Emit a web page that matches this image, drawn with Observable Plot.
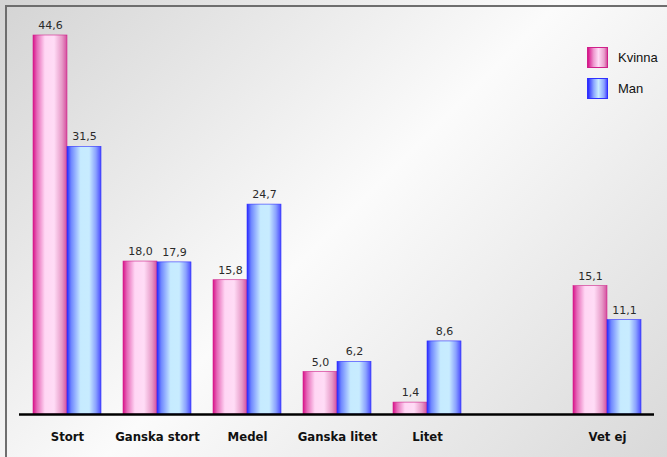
<!DOCTYPE html>
<html>
<head>
<meta charset="utf-8">
<script src="https://cdn.jsdelivr.net/npm/d3@7"></script>
<script src="https://cdn.jsdelivr.net/npm/@observablehq/plot@0.6"></script>
<style>
  html, body { margin: 0; padding: 0; }
  #wrap { position: relative; width: 667px; height: 457px; overflow: hidden;
    background: linear-gradient(135deg, #d4d4d4 0%, #fbfbfb 50%, #d9d9d9 100%); }
  #frame { position: absolute; left: 5px; top: 5px; width: 800px; height: 600px;
    border-left: 2px solid #6e6e6e; border-top: 2px solid #6e6e6e; }
  #chart { position: absolute; left: 0; top: 0; }
  .legend { position: absolute; left: 587px; font: 13px "Liberation Sans", Arial, sans-serif; color: #111; }
  .legend .row { position: absolute; left: 0; width: 100px; height: 22px; }
  .legend .sw { position: absolute; left: 0; top: 0; width: 21px; height: 21px; box-sizing: border-box; }
  .legend .lab { position: absolute; left: 31px; top: 3px; }
</style>
</head>
<body>
<div id="wrap">
  <div id="frame"></div>
  <div id="chart"></div>
  <div class="legend" id="legend"></div>
</div>
<script>
const categories = ["Stort", "Ganska stort", "Medel", "Ganska litet", "Litet", " ", "Vet ej"];
const series = ["Kvinna", "Man"];
const kvinna = [44.6, 18.0, 15.8, 5.0, 1.4, null, 15.1];
const man = [31.5, 17.9, 24.7, 6.2, 8.6, null, 11.1];

const rows = [];
categories.forEach((c, i) => {
  if (kvinna[i] != null) rows.push({category: c, series: "Kvinna", value: kvinna[i]});
  if (man[i] != null) rows.push({category: c, series: "Man", value: man[i]});
});

const W = 667, H = 457, ML = 19, MR = 13;
const pIn = 0.25, pOut = 0.125;
const step = (W - ML - MR) / (categories.length - pIn + 2 * pOut);
const bw = step * (1 - pIn);
const half = bw / 2;

const fmt = v => v.toFixed(1).replace(".", ",");
const fill = {Kvinna: "url(#gK)", Man: "url(#gM)"};
const edge = {Kvinna: "#d0208a", Man: "#3030ff"};

const chart = Plot.plot({
  width: W, height: H,
  marginLeft: ML, marginRight: MR, marginTop: 35, marginBottom: 43,
  style: {background: "transparent", fontFamily: "'Liberation Sans Narrow', 'DejaVu Sans Condensed', 'Arial Narrow', sans-serif", fontWeight: "bold", fontSize: "13px", color: "#111"},
  x: {domain: categories, paddingInner: pIn, paddingOuter: pOut, tickSize: 0, tickPadding: 17, label: null},
  y: {domain: [0, 44.6], nice: false, axis: null},
  marks: [
    Plot.barY(rows.filter(d => d.series === "Kvinna"), {x: "category", y: "value", fill: fill.Kvinna, stroke: edge.Kvinna, strokeWidth: 0.6, insetRight: half}),
    Plot.barY(rows.filter(d => d.series === "Man"), {x: "category", y: "value", fill: fill.Man, stroke: edge.Man, strokeWidth: 0.6, insetLeft: half}),
    Plot.text(rows.filter(d => d.series === "Kvinna"), {x: "category", y: "value", text: d => fmt(d.value), dx: -half / 2, dy: -10, fontFamily: "DejaVu Sans, Verdana, sans-serif", fontWeight: "normal", fontSize: 11, fill: "#2a2a2a"}),
    Plot.text(rows.filter(d => d.series === "Man"), {x: "category", y: "value", text: d => fmt(d.value), dx: half / 2, dy: -10, fontFamily: "DejaVu Sans, Verdana, sans-serif", fontWeight: "normal", fontSize: 11, fill: "#2a2a2a"}),
    Plot.ruleY([0], {stroke: "#000", strokeWidth: 2.5})
  ]
});

const svg = d3.select(chart);
const defs = svg.insert("defs", ":first-child");
function grad(id, stops) {
  const g = defs.append("linearGradient").attr("id", id).attr("x1", "0").attr("x2", "1").attr("y1", "0").attr("y2", "0");
  stops.forEach(([o, c]) => g.append("stop").attr("offset", o).attr("stop-color", c));
}
grad("gK", [[0, "#d8128a"], [0.12, "#e66ab8"], [0.35, "#ffd6f4"], [0.62, "#ffdcf6"], [0.85, "#e79ac8"], [1, "#d44f9e"]]);
grad("gM", [[0, "#2828ff"], [0.12, "#6e86ff"], [0.4, "#c6ebff"], [0.65, "#c8ecff"], [0.85, "#8aa2ff"], [1, "#4a4aff"]]);
document.getElementById("chart").appendChild(chart);

const legend = document.getElementById("legend");
const swatchCss = {
  Kvinna: "linear-gradient(90deg, #d8128a 0%, #ee9ad0 30%, #ffdcf6 55%, #e9a0cc 85%, #d44f9e 100%)",
  Man: "linear-gradient(90deg, #2828ff 0%, #8aa6ff 30%, #c8ecff 55%, #8aa2ff 85%, #4a4aff 100%)"
};
series.forEach((s, i) => {
  const row = document.createElement("div");
  row.className = "row";
  row.style.top = (47 + i * 31) + "px";
  const sw = document.createElement("div");
  sw.className = "sw";
  sw.style.background = swatchCss[s];
  sw.style.border = "1px solid " + edge[s];
  const lab = document.createElement("span");
  lab.className = "lab";
  lab.textContent = s;
  row.appendChild(sw); row.appendChild(lab);
  legend.appendChild(row);
});
</script>
</body>
</html>
